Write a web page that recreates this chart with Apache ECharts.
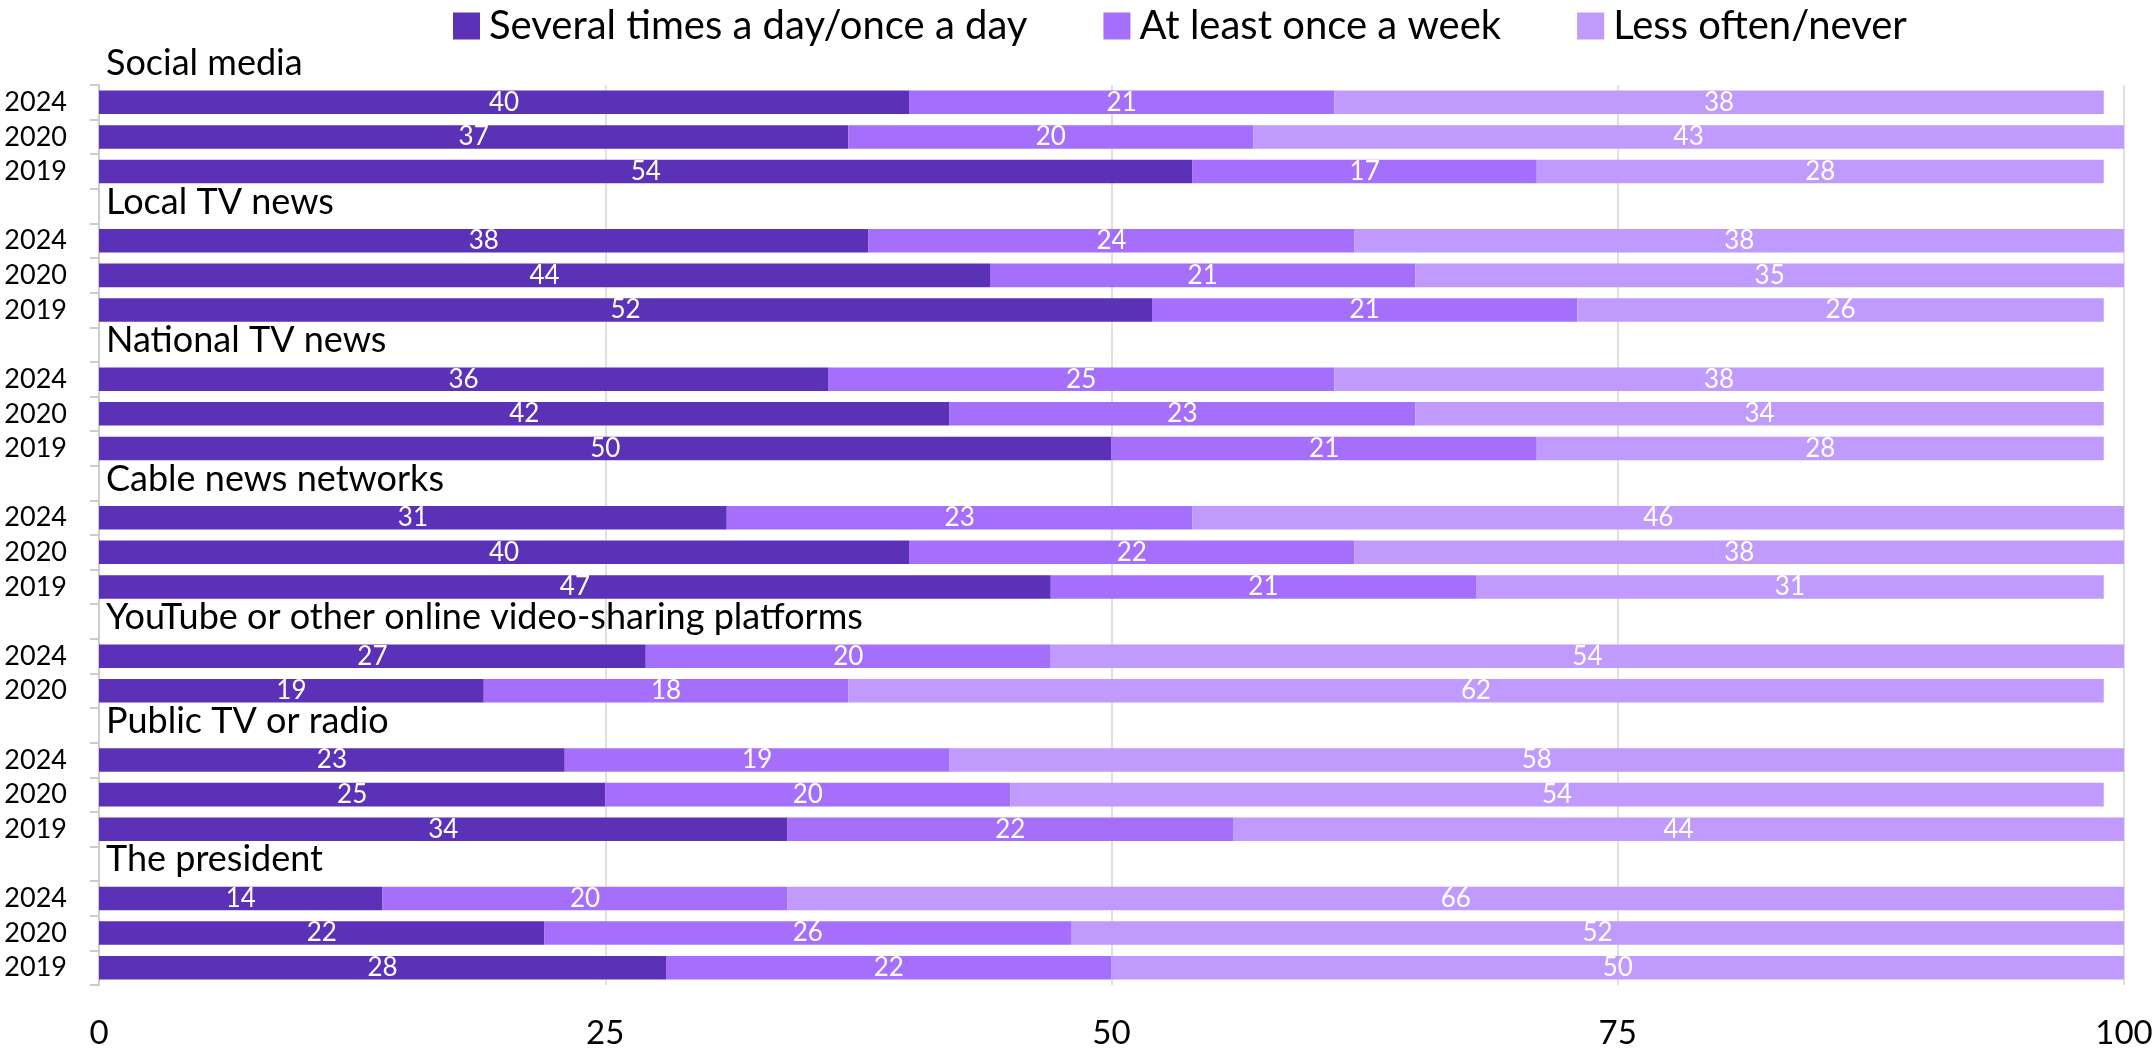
<!DOCTYPE html>
<html>
<head>
<meta charset="utf-8">
<script src="https://cdn.jsdelivr.net/npm/echarts@6/dist/echarts.min.js"></script>
<style>html,body{margin:0;padding:0;background:#fff}#c{width:2156px;height:1056px}</style>
</head>
<body>
<div id="c"></div>
<script>
const groups = ["Social media","Local TV news","National TV news","Cable news networks","YouTube or other online video-sharing platforms","Public TV or radio","The president"];
const groupYears = [
  ["2024","2020","2019"],
  ["2024","2020","2019"],
  ["2024","2020","2019"],
  ["2024","2020","2019"],
  ["2024","2020"],
  ["2024","2020","2019"],
  ["2024","2020","2019"]
];
const seriesNames = ["Several times a day/once a day","At least once a week","Less often/never"];
// values per group, per year row
const daily = [[40,37,54],[38,44,52],[36,42,50],[31,40,47],[27,19],[23,25,34],[14,22,28]];
const weekly = [[21,20,17],[24,21,21],[25,23,21],[23,22,21],[20,18],[19,20,22],[20,26,22]];
const lessOften = [[38,43,28],[38,35,26],[38,34,28],[46,38,31],[54,62],[58,54,44],[66,52,50]];
const xTicks = [0,25,50,75,100];
const colors = ["#5a31b7","#a56ffc","#c09afc"];

// build rows: year rows per group, spacer row between groups
const cats = [], catLabels = [], firstRow = [];
const sData = [[],[],[]];
groups.forEach((g, gi) => {
  if (gi > 0) {
    cats.push("spacer" + gi); catLabels.push("");
    sData.forEach(s => s.push("-"));
  }
  firstRow.push(cats.length);
  groupYears[gi].forEach((y, yi) => {
    cats.push(g + "|" + y); catLabels.push(y);
    sData[0].push(daily[gi][yi]);
    sData[1].push(weekly[gi][yi]);
    sData[2].push(lessOften[gi][yi]);
  });
});

const FONT = "Lato";
const chart = echarts.init(document.getElementById("c"));
const barSeries = seriesNames.map((n, i) => ({
  name: n, type: "bar", stack: "total", barWidth: "68%",
  data: sData[i],
  itemStyle: { color: colors[i] },
  label: { show: true, position: "inside", color: "#fff", fontFamily: FONT, fontSize: 26,
    formatter: p => p.value }
}));
chart.setOption({
  animation: false,
  textStyle: { fontFamily: FONT },
  legend: {
    data: seriesNames, top: 1, left: 448,
    itemWidth: 27, itemHeight: 27, itemGap: 76,
    icon: "rect",
    textStyle: { fontSize: 40, color: "#000", fontFamily: FONT, padding: [0, 0, 0, 4] }
  },
  grid: { left: 99, right: 32, top: 85, bottom: 71, containLabel: false },
  xAxis: {
    type: "value", min: 0, max: 100, interval: 25,
    axisLine: { show: false }, axisTick: { show: false },
    splitLine: { lineStyle: { color: "#e0e0e0", width: 2 } },
    axisLabel: { fontSize: 33, color: "#000", margin: 32, fontFamily: FONT,
      formatter: v => xTicks.includes(v) ? String(v) : "" }
  },
  yAxis: {
    type: "category", inverse: true, data: cats,
    axisLine: { show: true, lineStyle: { color: "#cccccc", width: 2 } },
    axisTick: { show: true, interval: 0, length: 9, lineStyle: { color: "#cccccc", width: 2 } },
    axisLabel: { interval: 0, fontSize: 27, color: "#000", margin: 32, fontFamily: FONT,
      formatter: (v, i) => catLabels[i] }
  },
  series: barSeries.concat([{
    type: "custom", name: "titles", silent: true, clip: false,
    data: firstRow.map(r => [0, r]),
    encode: { x: 0, y: 1 },
    renderItem: (params, api) => {
      const pt = api.coord([0, api.value(1)]);
      const h = api.size([0, 1])[1];
      return { type: "text", x: pt[0] + 7, y: pt[1] - h - 4,
        style: { text: groups[params.dataIndex], fill: "#000", fontSize: 36, fontFamily: FONT,
          verticalAlign: "middle", align: "left" } };
    }
  }])
});
</script>
</body>
</html>
